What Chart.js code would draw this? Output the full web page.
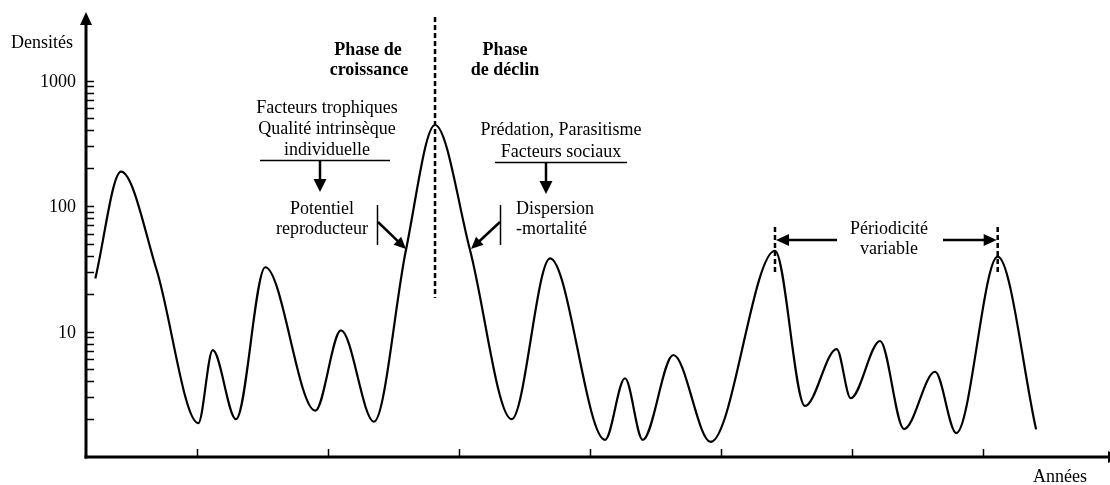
<!DOCTYPE html>
<html>
<head>
<meta charset="utf-8">
<script src="https://cdn.jsdelivr.net/npm/chart.js@4.4.0/dist/chart.umd.min.js"></script>
<style>
  html, body { margin: 0; padding: 0; background: #fff; }
  #wrap { width: 1110px; height: 485px; position: relative; }
</style>
</head>
<body>
<div id="wrap"><canvas id="chart"></canvas></div>
<script>
// Fluctuations de densité d'une population (échelle log) au fil des années

const years = [0.224, 0.420, 0.692, 1.010, 1.120, 1.298, 1.521, 1.903,
               2.099, 2.351, 2.595, 2.817, 3.084, 3.402, 3.695, 4.115, 4.267, 4.402,
               4.636, 4.921, 5.412, 5.641, 5.883, 5.990, 6.214, 6.397, 6.634, 6.796,
               7.112, 7.405];
const densites = [26.5, 188, 30.9, 1.86, 7.1, 2.0, 32.5, 2.34,
                  10.2, 1.91, 44.6, 442, 44.6, 2.0, 38.3, 1.37, 4.24, 1.37,
                  6.5, 1.32, 44.0, 2.55, 7.25, 2.94, 8.4, 1.67, 4.78, 1.55,
                  39.5, 1.66];

const yTickLabels = ['10', '100', '1000'];
const yTickValues = [10, 100, 1000];
const yMinorTicks = [2, 3, 4, 5, 6, 7, 8, 9, 10, 20, 30, 40, 50, 60, 70, 80, 90, 100,
                     200, 300, 400, 500, 600, 700, 800, 900, 1000];
const xTickYears = [1, 2, 3, 4, 5, 6, 7];

const mainPeak = 11;          // pic de pullulation
const periodPeaks = [20, 28]; // pics encadrant la périodicité

const FONT = '18px "Liberation Serif", "Times New Roman", serif';
const BOLD = 'bold 18px "Liberation Serif", "Times New Roman", serif';

function arrowHead(ctx, x1, y1, x2, y2, len, half) {
    const a = Math.atan2(y2 - y1, x2 - x1);
    ctx.beginPath();
    ctx.moveTo(x2, y2);
    ctx.lineTo(x2 - len * Math.cos(a) + half * Math.sin(a), y2 - len * Math.sin(a) - half * Math.cos(a));
    ctx.lineTo(x2 - len * Math.cos(a) - half * Math.sin(a), y2 - len * Math.sin(a) + half * Math.cos(a));
    ctx.closePath();
    ctx.fill();
}

function arrow(ctx, x1, y1, x2, y2, len, half, width) {
    const a = Math.atan2(y2 - y1, x2 - x1);
    ctx.lineWidth = width;
    ctx.beginPath();
    ctx.moveTo(x1, y1);
    ctx.lineTo(x2 - (len - 1) * Math.cos(a), y2 - (len - 1) * Math.sin(a));
    ctx.stroke();
    arrowHead(ctx, x1, y1, x2, y2, len, half);
}

function line(ctx, x1, y1, x2, y2, width, dash) {
    ctx.lineWidth = width;
    ctx.setLineDash(dash || []);
    ctx.beginPath();
    ctx.moveTo(x1, y1);
    ctx.lineTo(x2, y2);
    ctx.stroke();
    ctx.setLineDash([]);
}

function text(ctx, s, x, y, align, font) {
    ctx.font = font || FONT;
    ctx.textAlign = align;
    ctx.textBaseline = 'alphabetic';
    ctx.fillText(s, x, y);
}

const whiteBg = {
    id: 'whiteBg',
    beforeDraw(chart) {
        const ctx = chart.ctx;
        ctx.save();
        ctx.fillStyle = '#fff';
        ctx.fillRect(0, 0, chart.width, chart.height);
        ctx.restore();
    }
};

const schema = {
    id: 'schema',
    afterDraw(chart) {
        const ctx = chart.ctx;
        const xs = chart.scales.x, ys = chart.scales.y;
        const area = chart.chartArea;
        const x0 = area.left, y0 = area.bottom;
        ctx.save();
        ctx.strokeStyle = '#000';
        ctx.fillStyle = '#000';
        ctx.lineCap = 'butt';

        // axes
        line(ctx, x0, y0 + 1.5, x0, area.top + 12, 3);
        arrowHead(ctx, x0, y0, x0, area.top - 1, 13, 6);
        line(ctx, x0 - 1.5, y0, 1109, y0, 3);
        arrowHead(ctx, x0, y0, 1121, y0, 13, 6);

        // graduations
        yMinorTicks.forEach(v => {
            const py = Math.round(ys.getPixelForValue(v)) + 0.5;
            line(ctx, x0, py, x0 + 8, py, 1.5);
        });
        xTickYears.forEach(v => {
            const px = Math.round(xs.getPixelForValue(v)) + 0.5;
            line(ctx, px, y0, px, y0 - 8, 1.5);
        });
        yTickValues.forEach((v, i) => {
            text(ctx, yTickLabels[i], 76, ys.getPixelForValue(v) + 6, 'right');
        });
        text(ctx, 'Densités', 42, 48, 'center');
        text(ctx, 'Années', 1060, 482, 'center');

        // phase de croissance / déclin
        const pk = xs.getPixelForValue(years[mainPeak]);
        line(ctx, pk, 17, pk, 298, 2.5, [5, 3]);
        text(ctx, 'Phase de', 368, 55, 'center', BOLD);
        text(ctx, 'croissance', 369, 75, 'center', BOLD);
        text(ctx, 'Phase', 505, 55, 'center', BOLD);
        text(ctx, 'de déclin', 505, 75, 'center', BOLD);

        // facteurs de croissance
        text(ctx, 'Facteurs trophiques', 327, 113, 'center');
        text(ctx, 'Qualité intrinsèque', 327, 134, 'center');
        text(ctx, 'individuelle', 327, 155, 'center');
        line(ctx, 260, 160.5, 390, 160.5, 1.5);
        arrow(ctx, 320, 160, 320, 192, 13, 6.5, 2.5);
        text(ctx, 'Potentiel', 322, 214, 'center');
        text(ctx, 'reproducteur', 322, 234, 'center');
        line(ctx, 377.5, 205, 377.5, 245, 1.5);
        arrow(ctx, 378, 222, 406, 249, 12, 5.5, 2.5);

        // facteurs de déclin
        text(ctx, 'Prédation, Parasitisme', 561, 135, 'center');
        text(ctx, 'Facteurs sociaux', 561, 157, 'center');
        line(ctx, 495, 162.5, 627, 162.5, 1.5);
        arrow(ctx, 546, 162, 546, 194, 13, 6.5, 2.5);
        text(ctx, 'Dispersion', 516, 214, 'left');
        text(ctx, '-mortalité', 516, 234, 'left');
        line(ctx, 500.5, 205, 500.5, 245, 1.5);
        arrow(ctx, 500, 222, 471, 249, 12, 5.5, 2.5);

        // périodicité variable
        const p1 = xs.getPixelForValue(years[periodPeaks[0]]);
        const p2 = xs.getPixelForValue(years[periodPeaks[1]]);
        line(ctx, p1, 227, p1, 272, 2.5, [5, 3]);
        line(ctx, p2, 227, p2, 272, 2.5, [5, 3]);
        arrow(ctx, 837, 240, p1 + 1, 240, 13, 6, 2.5);
        arrow(ctx, 943, 240, p2 - 1, 240, 13, 6, 2.5);
        text(ctx, 'Périodicité', 889, 234, 'center');
        text(ctx, 'variable', 889, 254, 'center');

        ctx.restore();
    }
};

new Chart(document.getElementById('chart'), {
    type: 'line',
    data: {
        datasets: [{
            data: years.map((x, i) => ({ x: x, y: densites[i] })),
            borderColor: '#000',
            borderWidth: 2.2,
            pointRadius: 0,
            fill: false,
            cubicInterpolationMode: 'monotone'
        }]
    },
    options: {
        responsive: true,
        maintainAspectRatio: false,
        animation: false,
        devicePixelRatio: 1,
        layout: { padding: { left: 86, top: 13, right: 2, bottom: 28 } },
        plugins: { legend: { display: false }, tooltip: { enabled: false } },
        scales: {
            x: { type: 'linear', min: 0.1527, max: 7.954, display: false },
            y: { type: 'logarithmic', min: 1, max: 3451, display: false }
        }
    },
    plugins: [whiteBg, schema]
});
</script>
</body>
</html>
